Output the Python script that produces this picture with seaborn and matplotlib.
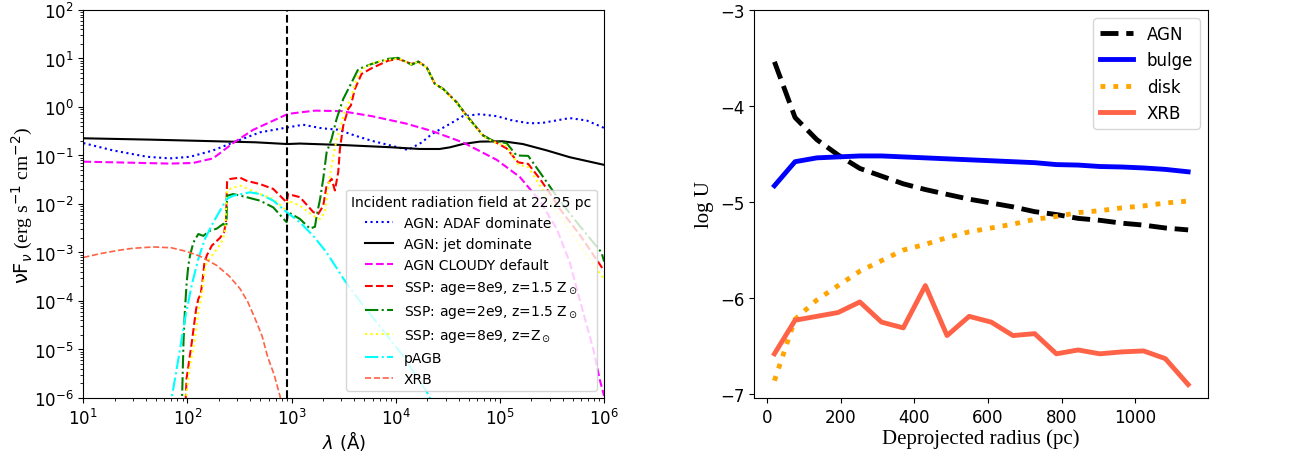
import seaborn as sns
import matplotlib.pyplot as plt

plt.rcParams['font.serif'] = ['Liberation Serif', 'DejaVu Serif']
plt.rcParams['xtick.labelsize'] = 12
plt.rcParams['ytick.labelsize'] = 12

# ---- left panel: incident radiation fields (wavelength in Angstrom, nuF_nu) ----
adaf_lam = [10, 19.3, 40.8, 68, 106, 176, 274, 497, 923, 1285, 1954, 2786, 4055, 5902,
            8395, 13060, 17780, 22180, 33040, 44060, 64120, 93330, 132700, 193200,
            257000, 467700, 680800, 1e6]
adaf_f = [0.18, 0.127, 0.094, 0.087, 0.094, 0.127, 0.185, 0.30, 0.38, 0.43, 0.363, 0.34,
          0.257, 0.20, 0.166, 0.13, 0.186, 0.277, 0.447, 0.645, 0.71, 0.645, 0.525, 0.46,
          0.47, 0.59, 0.525, 0.37]

jet_lam = [10, 44, 132, 445, 912, 1200, 2900, 8770, 17000, 26300, 33000, 44000, 64100,
           106700, 166000, 282000, 468000, 1e6]
jet_f = [0.226, 0.212, 0.20, 0.187, 0.172, 0.176, 0.165, 0.148, 0.136, 0.136, 0.147,
         0.172, 0.193, 0.196, 0.172, 0.127, 0.092, 0.064]

cloudy_lam = [10, 28.1, 68, 113, 176, 274, 425, 923, 1675, 3040, 5900, 12250, 22180,
              44060, 93330, 155000, 241000, 351000, 467700, 546000, 794000, 912000, 1e6]
cloudy_f = [0.0745, 0.071, 0.068, 0.07, 0.087, 0.18, 0.336, 0.72, 0.84, 0.82, 0.645,
            0.46, 0.32, 0.186, 0.081, 0.036, 0.0117, 0.00306, 6.3e-4, 1.8e-4, 9.4e-6,
            2.3e-6, 1.1e-6]

ssp_old_lam = [95, 98, 110, 121, 127, 134, 140, 145, 153, 171, 184, 205, 224, 234, 240,
               256, 319, 370, 497, 666, 895, 925, 1202, 1612, 1799, 2010, 2166, 2419,
               2600, 2800, 2908, 3128, 3493, 3700, 4048, 4694, 5864, 8453, 10540, 14180,
               16420, 19770, 23730, 28520, 38370, 47870, 69060, 86100, 115700, 149500,
               186700, 241600, 312800, 375900, 585000, 1e6]
ssp_old_f = [5e-7, 2.5e-6, 1.4e-5, 6.8e-5, 1.1e-4, 1.4e-4, 2.8e-4, 5.8e-4, 8.6e-4,
             1.38e-3, 1.6e-3, 2.0e-3, 2.6e-3, 4.2e-3, 0.030, 0.0327, 0.035, 0.030,
             0.0257, 0.0204, 0.0108, 0.016, 0.0138, 0.0068, 0.0062, 0.0092, 0.024,
             0.033, 0.019, 0.045, 0.136, 0.41, 0.91, 1.07, 2.35, 4.8, 6.3, 9.0, 9.8,
             7.7, 8.6, 6.6, 2.98, 2.35, 1.25, 0.66, 0.257, 0.2, 0.14, 0.072, 0.067,
             0.033, 0.0148, 0.0079, 0.0023, 4.2e-4]

ssp_young_lam = [88, 91.5, 94.6, 98.2, 101.9, 105.7, 113.8, 127, 142, 164, 191, 221, 236,
                 240, 275, 370, 497, 666, 895, 925, 1202, 1500, 1675, 1738, 1876, 2010,
                 2166, 2419, 2704, 3128, 3767, 4355, 5864, 8453, 10540, 14180, 16420,
                 19770, 23730, 28520, 38370, 47870, 69060, 86100, 115700, 144200, 186700,
                 241600, 312800, 375900, 585000, 944000, 1e6]
ssp_young_f = [5e-7, 1.4e-5, 6.8e-5, 2.4e-4, 5.4e-4, 8.6e-4, 1.6e-3, 2.4e-3, 2.2e-3,
               2.8e-3, 3.1e-3, 3.9e-3, 3.4e-3, 0.0148, 0.016, 0.0138, 0.0117, 0.0085,
               0.0042, 0.0068, 0.0049, 0.0031, 0.0034, 0.0057, 0.0127, 0.033, 0.116,
               0.22, 0.57, 1.46, 3.2, 6.0, 7.7, 9.8, 10.3, 7.4, 8.6, 6.6, 2.98, 2.35,
               1.25, 0.66, 0.257, 0.2, 0.18, 0.1, 0.098, 0.045, 0.0204, 0.0117, 0.0035,
               1.0e-3, 6.5e-4]

ssp_solar_lam = [94, 96.8, 105.7, 118, 127, 137, 144, 151, 171, 198, 221, 231, 240, 256,
                 319, 370, 497, 666, 895, 925, 1202, 1612, 1871, 2089, 2245, 2419, 2704,
                 2908, 3243, 3767, 4207, 4694, 6310, 8453, 10540, 14180, 16420, 19770,
                 23730, 28520, 38370, 47870, 69060, 86100, 115700, 149500, 186700,
                 241600, 312800, 585000, 1e6]
ssp_solar_f = [5e-7, 1e-6, 4.7e-6, 1.65e-5, 5.9e-5, 1.3e-4, 3.3e-4, 5.7e-4, 8.6e-4,
               1.28e-3, 1.9e-3, 3.6e-3, 0.019, 0.0204, 0.024, 0.021, 0.016, 0.0126,
               0.0073, 0.0117, 0.0092, 0.0057, 0.0049, 0.0068, 0.022, 0.062, 0.22, 0.35,
               0.84, 1.7, 3.8, 6.0, 8.3, 9.4, 10.0, 7.6, 8.5, 6.5, 3.0, 2.3, 1.22, 0.64,
               0.25, 0.19, 0.158, 0.065, 0.058, 0.024, 0.01, 0.0014, 2.8e-4]

pagb_lam = [68, 70.5, 81.7, 94.6, 109.7, 127, 147, 177, 238, 275, 398, 497, 666, 895,
            1202, 1612, 2166, 3243, 4519, 6310, 11380, 20460, 23700]
pagb_f = [5e-7, 1e-6, 6.3e-6, 4.3e-5, 2.1e-4, 7.4e-4, 1.9e-3, 4.2e-3, 0.0127, 0.0148,
          0.0174, 0.016, 0.0117, 0.0068, 0.0042, 0.0022, 1.0e-3, 2.6e-4, 1.0e-4, 4e-5,
          8.1e-6, 1.2e-6, 6e-7]

xrb_lam = [10, 15, 22.5, 30, 47, 70, 98, 130, 191, 250, 319, 380, 446, 520, 590, 680,
           773, 820]
xrb_f = [7.9e-4, 9.6e-4, 1.12e-3, 1.22e-3, 1.3e-3, 1.25e-3, 1.05e-3, 8.5e-4, 5.4e-4,
         3.3e-4, 1.8e-4, 9.5e-5, 4.3e-5, 1.9e-5, 6.9e-6, 3.0e-6, 1.1e-6, 4e-7]

lyman_limit = 912

# ---- right panel: ionization parameter vs radius ----
radius = [20, 76, 135, 193, 252, 311, 370, 430, 489, 549, 609, 668, 727, 786, 845, 904,
          964, 1023, 1082, 1144]
logu_agn = [-3.54, -4.12, -4.35, -4.51, -4.65, -4.73, -4.81, -4.87, -4.92, -4.97, -5.01,
            -5.05, -5.10, -5.13, -5.17, -5.19, -5.22, -5.24, -5.27, -5.29]
logu_bulge = [-4.83, -4.58, -4.54, -4.53, -4.52, -4.52, -4.53, -4.54, -4.55, -4.56,
              -4.57, -4.58, -4.59, -4.61, -4.615, -4.63, -4.635, -4.645, -4.66, -4.685]
logu_disk = [-6.86, -6.22, -6.02, -5.87, -5.72, -5.61, -5.50, -5.44, -5.37, -5.31, -5.27,
             -5.23, -5.18, -5.15, -5.11, -5.09, -5.06, -5.04, -5.01, -4.99]
logu_xrb = [-6.58, -6.23, -6.19, -6.15, -6.04, -6.25, -6.31, -5.87, -6.39, -6.19, -6.25,
            -6.39, -6.37, -6.58, -6.54, -6.58, -6.56, -6.55, -6.63, -6.90]

fig, (ax1, ax2) = plt.subplots(1, 2, figsize=(12.92, 4.56), dpi=100,
                               gridspec_kw={'width_ratios': [521, 454]})
fig.subplots_adjust(left=0.0645, right=0.935, bottom=0.125, top=0.976, wspace=0.308)

ax1.set_xscale('log')
ax1.set_yscale('log')

left_curves = [
    (adaf_lam, adaf_f, 'blue', ':', 1.5, 'AGN: ADAF dominate'),
    (jet_lam, jet_f, 'black', '-', 1.5, 'AGN: jet dominate'),
    (cloudy_lam, cloudy_f, 'magenta', '--', 1.5, 'AGN CLOUDY default'),
    (ssp_old_lam, ssp_old_f, 'red', '--', 1.5, r'SSP: age=8e9, z=1.5 Z$_\odot$'),
    (ssp_young_lam, ssp_young_f, 'green', '-.', 1.5, r'SSP: age=2e9, z=1.5 Z$_\odot$'),
    (ssp_solar_lam, ssp_solar_f, 'yellow', ':', 1.5, r'SSP: age=8e9, z=Z$_\odot$'),
    (pagb_lam, pagb_f, 'cyan', '-.', 1.5, 'pAGB'),
    (xrb_lam, xrb_f, 'tomato', '--', 1.2, 'XRB'),
]
for lam, flux, color, ls, lw, label in left_curves:
    sns.lineplot(x=lam, y=flux, ax=ax1, color=color, linestyle=ls, linewidth=lw,
                 label=label, estimator=None, sort=False)

ax1.axvline(lyman_limit, color='black', linestyle='--', linewidth=1.5)
ax1.set_xlim(10, 1e6)
ax1.set_ylim(1e-6, 1e2)
ax1.set_xlabel(r'$\lambda$ (Å)', fontsize=13, labelpad=0)
ax1.set_ylabel(r'$\mathrm{\nu F}_{\nu}$ (erg s$^{-1}$ cm$^{-2}$)', fontsize=14,
               family='serif', labelpad=-1)
ax1.legend(loc='lower right', fontsize=10, title='Incident radiation field at 22.25 pc',
           title_fontsize=10)

right_curves = [
    (logu_agn, 'black', '--', 'AGN'),
    (logu_bulge, 'blue', '-', 'bulge'),
    (logu_disk, 'orange', ':', 'disk'),
    (logu_xrb, 'tomato', '-', 'XRB'),
]
for vals, color, ls, label in right_curves:
    sns.lineplot(x=radius, y=vals, ax=ax2, color=color, linestyle=ls, linewidth=3.5,
                 label=label, estimator=None, sort=False)

ax2.set_xlim(-35, 1198)
ax2.set_ylim(-7.04, -3)
ax2.set_yticks([-7, -6, -5, -4, -3])
ax2.set_xlabel('Deprojected radius (pc)', fontsize=15, family='serif', labelpad=2)
ax2.set_ylabel('log U', fontsize=15, family='serif')
ax2.legend(loc='upper right', fontsize=12)

plt.savefig('out.png', dpi=100)
